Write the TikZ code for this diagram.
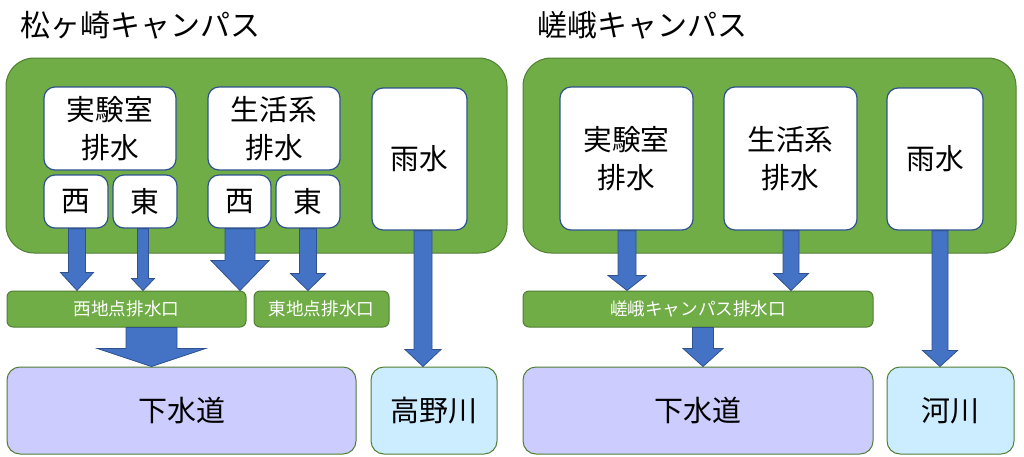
\documentclass[tikz,border=0pt]{standalone}
\usepackage{fontspec}
\setmainfont{Noto Sans CJK JP}
\usetikzlibrary{calc}
\definecolor{grn}{HTML}{70AD47}
\definecolor{grnd}{HTML}{507E32}
\definecolor{blu}{HTML}{4472C4}
\definecolor{blud}{HTML}{2F528F}
\definecolor{lav}{HTML}{CCCCFF}
\definecolor{sky}{HTML}{CCECFF}
\tikzset{
 campus/.style={draw=grnd, fill=grn, line width=1pt, rounded corners=28pt, inner sep=0pt},
 src/.style={draw=blud, fill=white, line width=1.2pt, rounded corners=11pt, align=center, inner sep=0pt, font=\fontsize{28.7}{37.5}\selectfont},
 outlet/.style={draw=grnd, fill=grn, line width=1pt, rounded corners=6pt, inner sep=0pt, text=white, font=\fontsize{17.6}{20}\selectfont},
 dest/.style={draw=grnd, line width=1pt, rounded corners=13pt, inner sep=0pt, font=\fontsize{29}{30}\selectfont},
 fat/.style={draw=blud, fill=blu, line width=0.8pt},
 ttl/.style={anchor=west, inner sep=0pt, font=\fontsize{30}{31}\selectfont}
}
\newcommand\fatarrow[5]{%
 \draw[fat] let \p1=#1, \p2=(#2.north) in
 (\x1-#3,\y1) -- (\x1-#3,\y2+#5) -- (\x1-#4,\y2+#5) -- (\x1,\y2) -- (\x1+#4,\y2+#5) -- (\x1+#3,\y2+#5) -- (\x1+#3,\y1) -- cycle;}
\begin{document}
\begin{tikzpicture}[x=1pt,y=-1pt]
\useasboundingbox (0,0) rectangle (1024,456);
% titles
\node[ttl] (tL) at (20,25) {松ヶ崎キャンパス};
\node[ttl] (tR) at (537,25) {嵯峨キャンパス};
% campus boxes
\node[campus, minimum width=501pt, minimum height=195pt] (campL) at (256.5,155.5) {};
\node[campus, minimum width=493pt, minimum height=195pt] (campR) at (769.5,155.5) {};
% left sources
\node[src, minimum width=132pt, minimum height=83pt] (labL) at (110,128.5) {実験室\\排水};
\node[src, minimum width=64pt, minimum height=53pt] (labLW) at (76,201.5) {西};
\node[src, minimum width=64pt, minimum height=53pt] (labLE) at (145,201.5) {東};
\node[src, minimum width=132pt, minimum height=83pt] (lifeL) at (274,128.5) {生活系\\排水};
\node[src, minimum width=63pt, minimum height=53pt] (lifeLW) at (239.5,201.5) {西};
\node[src, minimum width=64pt, minimum height=53pt] (lifeLE) at (308,201.5) {東};
\node[src, minimum width=95pt, minimum height=142pt] (rainL) at (419.5,159) {雨水};
% right sources
\node[src, minimum width=133pt, minimum height=143pt] (labR) at (626.5,158.5) {実験室\\排水};
\node[src, minimum width=133pt, minimum height=143pt] (lifeR) at (790.5,158.5) {生活系\\排水};
\node[src, minimum width=96pt, minimum height=142pt] (rainR) at (935,159) {雨水};
% outlets
\node[outlet, minimum width=239pt, minimum height=36pt] (outW) at (126.5,309) {西地点排水口};
\node[outlet, minimum width=135pt, minimum height=36pt] (outE) at (321.5,309) {東地点排水口};
\node[outlet, minimum width=350pt, minimum height=36pt] (outS) at (698,309) {嵯峨キャンパス排水口};
% destinations
\node[dest, fill=lav, minimum width=349pt, minimum height=87pt] (sewL) at (181.5,410.5) {下水道};
\node[dest, fill=sky, minimum width=126pt, minimum height=87pt] (rivL) at (434,410.5) {高野川};
\node[dest, fill=lav, minimum width=350pt, minimum height=87pt] (sewR) at (698,410.5) {下水道};
\node[dest, fill=sky, minimum width=127pt, minimum height=87pt] (rivR) at (950.5,410.5) {河川};
% arrows left
\fatarrow{([xshift=1pt]labLW.south)}{outW}{8.5pt}{16.5pt}{18pt}
\fatarrow{([xshift=-2pt]labLE.south)}{outW}{5.5pt}{11.5pt}{12pt}
\fatarrow{([xshift=0.5pt]lifeLW.south)}{outW}{15pt}{29pt}{30pt}
\fatarrow{(lifeLE.south)}{outE}{8.5pt}{17.5pt}{17pt}
\fatarrow{([xshift=3.5pt]rainL.south)}{rivL}{9pt}{18pt}{17pt}
\fatarrow{([xshift=25pt]outW.south)}{sewL}{25.5pt}{54pt}{18pt}
% arrows right
\fatarrow{([xshift=0.5pt]labR.south)}{outS}{9pt}{19pt}{15pt}
\fatarrow{([xshift=0.5pt]lifeR.south)}{outS}{8pt}{17.5pt}{17pt}
\fatarrow{([xshift=5pt]outS.south)}{sewR}{10.5pt}{20pt}{18pt}
\fatarrow{([xshift=5pt]rainR.south)}{rivR}{8pt}{17.5pt}{16pt}
\end{tikzpicture}
\end{document}
